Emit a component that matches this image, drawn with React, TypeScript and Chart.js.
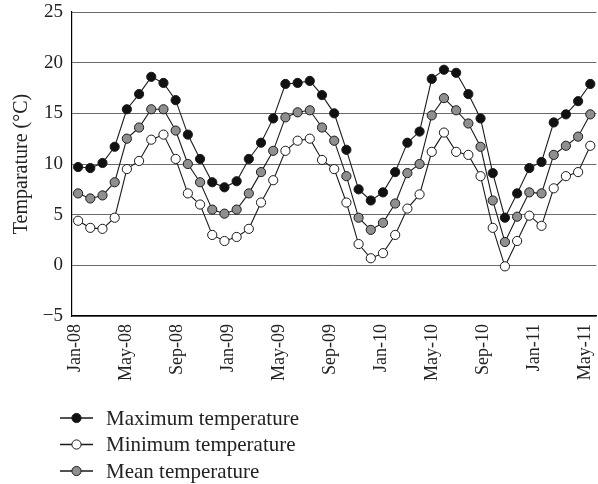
import React, { useEffect, useRef } from "react";
import { Chart, registerables } from "chart.js";

Chart.register(...registerables);

const months = [
  "Jan-08", "Feb-08", "Mar-08", "Apr-08", "May-08", "Jun-08", "Jul-08", "Aug-08", "Sep-08", "Oct-08", "Nov-08", "Dec-08",
  "Jan-09", "Feb-09", "Mar-09", "Apr-09", "May-09", "Jun-09", "Jul-09", "Aug-09", "Sep-09", "Oct-09", "Nov-09", "Dec-09",
  "Jan-10", "Feb-10", "Mar-10", "Apr-10", "May-10", "Jun-10", "Jul-10", "Aug-10", "Sep-10", "Oct-10", "Nov-10", "Dec-10",
  "Jan-11", "Feb-11", "Mar-11", "Apr-11", "May-11", "Jun-11", "Jul-11",
];

const tickLabels = ["Jan-08", "May-08", "Sep-08", "Jan-09", "May-09", "Sep-09", "Jan-10", "May-10", "Sep-10", "Jan-11", "May-11"];

const maxTemp = [
  9.7, 9.6, 10.1, 11.7, 15.4, 16.9, 18.6, 18.0, 16.3, 12.9, 10.5, 8.2,
  7.7, 8.3, 10.5, 12.1, 14.5, 17.9, 18.0, 18.2, 16.8, 15.0, 11.4, 7.5,
  6.4, 7.2, 9.2, 12.1, 13.2, 18.4, 19.3, 19.0, 16.9, 14.5, 9.1, 4.7,
  7.1, 9.6, 10.2, 14.1, 14.9, 16.2, 17.9,
];

const minTemp = [
  4.4, 3.7, 3.6, 4.7, 9.5, 10.3, 12.4, 12.9, 10.5, 7.1, 6.0, 3.0,
  2.4, 2.8, 3.6, 6.2, 8.4, 11.3, 12.3, 12.5, 10.4, 9.5, 6.2, 2.1,
  0.7, 1.2, 3.0, 5.6, 7.0, 11.2, 13.1, 11.2, 10.9, 8.8, 3.7, -0.1,
  2.4, 4.9, 3.9, 7.6, 8.8, 9.2, 11.8,
];

const meanTemp = [
  7.1, 6.6, 6.9, 8.2, 12.5, 13.6, 15.4, 15.4, 13.3, 10.0, 8.2, 5.5,
  5.1, 5.5, 7.1, 9.2, 11.3, 14.6, 15.1, 15.3, 13.6, 12.3, 8.8, 4.7,
  3.5, 4.2, 6.1, 9.1, 10.0, 14.8, 16.5, 15.3, 14.0, 11.7, 6.4, 2.3,
  4.8, 7.2, 7.1, 10.9, 11.8, 12.7, 14.9,
];

const seriesNames = ["Maximum temperature", "Minimum temperature", "Mean temperature"];
const seriesFills = ["#111111", "#ffffff", "#8f8f8f"];

const FONT = '"Liberation Serif", "Times New Roman", serif';
const INK = "#1a1a1a";

const legendPlugin = {
  id: "verticalLegend",
  afterDraw(chart: any) {
    const ctx = chart.ctx;
    chart.data.datasets.forEach((ds: any, i: number) => {
      const y = 418 + i * 26.5;
      ctx.save();
      ctx.strokeStyle = INK;
      ctx.lineWidth = 1.4;
      ctx.beginPath();
      ctx.moveTo(60, y);
      ctx.lineTo(93, y);
      ctx.stroke();
      ctx.beginPath();
      ctx.arc(76.5, y, 4.6, 0, Math.PI * 2);
      ctx.fillStyle = ds.pointBackgroundColor;
      ctx.fill();
      ctx.lineWidth = 1;
      ctx.stroke();
      ctx.fillStyle = "#222";
      ctx.font = `21px ${FONT}`;
      ctx.textAlign = "left";
      ctx.textBaseline = "middle";
      ctx.fillText(ds.label, 106, y + 1);
      ctx.restore();
    });
  },
};

export default function App() {
  const canvasRef = useRef<HTMLCanvasElement | null>(null);

  useEffect(() => {
    if (!canvasRef.current) return;
    const series = [maxTemp, minTemp, meanTemp];
    const chart = new Chart(canvasRef.current, {
      type: "line",
      data: {
        labels: months,
        datasets: series.map((vals, i) => ({
          label: seriesNames[i],
          data: vals,
          xAxisID: "x",
          yAxisID: "y",
          borderColor: INK,
          borderWidth: 1.1,
          pointRadius: 4.6,
          pointHoverRadius: 4.6,
          pointBackgroundColor: seriesFills[i],
          pointBorderColor: INK,
          pointBorderWidth: 1,
          tension: 0,
          fill: false,
        })),
      },
      options: {
        responsive: false,
        animation: false,
        events: [],
        layout: { padding: { top: 12, right: 1, bottom: 88, left: 0 } },
        plugins: {
          legend: { display: false },
          tooltip: { enabled: false },
          title: { display: false },
        },
        scales: {
          x: {
            type: "category",
            display: false,
            offset: true,
          },
          xl: {
            type: "linear",
            position: "bottom",
            axis: "x",
            min: -0.058,
            max: 10.21,
            grid: { display: false, drawTicks: false },
            border: { display: true, color: "#000", width: 1.2 },
            afterBuildTicks: (s: any) => {
              s.ticks = tickLabels.map((_, i) => ({ value: i }));
            },
            afterFit: (s: any) => {
              s.height = 80;
              s.paddingLeft = 0;
              s.paddingRight = 0;
            },
            ticks: {
              autoSkip: false,
              minRotation: 90,
              maxRotation: 90,
              padding: 8,
              color: "#222",
              font: { family: FONT, size: 18 },
              callback: (v: any) => tickLabels[v as number] ?? "",
            },
          },
          y: {
            min: -5,
            max: 25,
            afterFit: (s: any) => {
              s.width = 72;
              s.paddingTop = 0;
              s.paddingBottom = 0;
            },
            grid: { color: "#6a6a6a", lineWidth: 1, drawTicks: false },
            border: { display: true, color: "#000", width: 1.2 },
            ticks: {
              stepSize: 5,
              padding: 9,
              color: "#222",
              font: { family: FONT, size: 19 },
              callback: (v: any) => (v < 0 ? "\u2212" + Math.abs(v) : String(v)),
            },
            title: {
              display: true,
              text: "Temparature (\u00B0C)",
              color: "#222",
              font: { family: FONT, size: 20 },
              padding: { top: 10, bottom: 0 },
            },
          },
        },
      },
      plugins: [legendPlugin],
    });
    return () => chart.destroy();
  }, []);

  return (
    <div style={{ position: "fixed", left: 0, top: 0, width: 602, height: 484, background: "#fff" }}>
      <canvas ref={canvasRef} width={602} height={484} style={{ display: "block" }} />
    </div>
  );
}
